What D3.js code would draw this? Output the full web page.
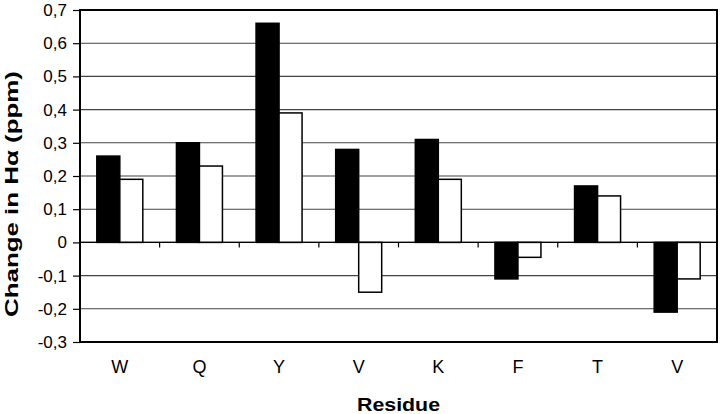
<!DOCTYPE html>
<html><head><meta charset="utf-8">
<script src="https://cdn.jsdelivr.net/npm/d3@7"></script>
<style>body{margin:0;background:#fff}svg{display:block}</style>
</head><body>
<svg id="c" width="720" height="414"></svg>
<script>
const residues = ["W","Q","Y","V","K","F","T","V"];
const seriesBlack = [0.26,0.30,0.66,0.28,0.31,-0.11,0.17,-0.21];
const seriesWhite = [0.19,0.23,0.39,-0.15,0.19,-0.045,0.14,-0.11];
const yTicks = [0.7,0.6,0.5,0.4,0.3,0.2,0.1,0,-0.1,-0.2,-0.3];
const yTickLabels = ["0,7","0,6","0,5","0,4","0,3","0,2","0,1","0","-0,1","-0,2","-0,3"];

const svg = d3.select("#c");
const L=80, R=717, T=10, B=342;
const x = d3.scaleBand().domain(d3.range(residues.length)).range([L,R]);
const y = d3.scaleLinear().domain([-0.3,0.7]).range([B,T]);
const font = "Arial, 'Liberation Sans', Helvetica, sans-serif";

// gridlines
svg.append("g").selectAll("line").data(yTicks.filter(d=>d!==0.7&&d!==-0.3)).join("line")
  .attr("x1",L).attr("x2",R).attr("y1",d=>y(d)).attr("y2",d=>y(d))
  .attr("stroke","#444").attr("stroke-width",1.1);

// y axis
const yAxis = d3.axisLeft(y).tickValues(yTicks).tickSize(7).tickPadding(6)
  .tickFormat((d,i)=>yTickLabels[i]);
const ga = svg.append("g").attr("transform",`translate(${L},0)`).call(yAxis);
ga.select(".domain").remove();
ga.selectAll("line").attr("stroke","#000").attr("stroke-width",1.2);
ga.selectAll("text").attr("font-family",font).attr("font-size",17).attr("fill","#000");

// bars
const bw = 23, off = (x.bandwidth()-2*bw)/2;
svg.append("g").selectAll("rect").data(seriesBlack).join("rect")
  .attr("x",(d,i)=>x(i)+off).attr("width",bw)
  .attr("y",d=>y(Math.max(0,d))).attr("height",d=>Math.abs(y(d)-y(0)))
  .attr("fill","#000").attr("stroke","#000").attr("stroke-width",1.5);
svg.append("g").selectAll("rect").data(seriesWhite).join("rect")
  .attr("x",(d,i)=>x(i)+off+bw).attr("width",bw)
  .attr("y",d=>y(Math.max(0,d))).attr("height",d=>Math.abs(y(d)-y(0)))
  .attr("fill","#fff").attr("stroke","#000").attr("stroke-width",1.5);

// zero axis line with ticks at band boundaries
svg.append("line").attr("x1",L).attr("x2",R).attr("y1",y(0)).attr("y2",y(0))
  .attr("stroke","#000").attr("stroke-width",1.2);
svg.append("g").selectAll("line").data(d3.range(1,residues.length)).join("line")
  .attr("x1",i=>x(i)).attr("x2",i=>x(i)).attr("y1",y(0)).attr("y2",y(0)+5)
  .attr("stroke","#000").attr("stroke-width",1.2);

// frame
svg.append("rect").attr("x",L).attr("y",T).attr("width",R-L).attr("height",B-T)
  .attr("fill","none").attr("stroke","#000").attr("stroke-width",2);

// x labels
svg.append("g").selectAll("text").data(residues).join("text")
  .attr("x",(d,i)=>x(i)+x.bandwidth()/2).attr("y",373)
  .attr("text-anchor","middle").attr("font-family",font).attr("font-size",18)
  .text(d=>d);

// axis titles
svg.append("text").attr("x",(L+R)/2).attr("y",411).attr("text-anchor","middle")
  .attr("font-family",font).attr("font-size",19).attr("font-weight","bold")
  .attr("textLength",83).attr("lengthAdjust","spacingAndGlyphs").text("Residue");
svg.append("text").attr("transform",`translate(18,194) rotate(-90)`)
  .attr("text-anchor","middle").attr("font-family",font).attr("font-size",19)
  .attr("font-weight","bold").attr("textLength",246).attr("lengthAdjust","spacingAndGlyphs")
  .text("Change in Hα (ppm)");
</script>
</body></html>
